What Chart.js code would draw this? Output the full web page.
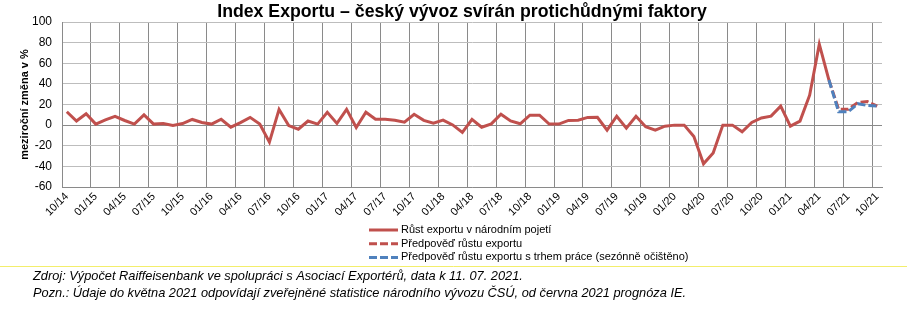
<!DOCTYPE html>
<html>
<head>
<meta charset="utf-8">
<script src="https://cdn.jsdelivr.net/npm/chart.js@4"></script>
<style>
  html, body { margin: 0; padding: 0; background: #fff; }
  #wrap { width: 907px; height: 310px; }
</style>
</head>
<body>
<div id="wrap"><canvas id="exportChart" width="907" height="310"></canvas></div>
<script>
// monthly categories 10/14 .. 10/21
const months = [
  '10/14','11/14','12/14',
  '01/15','02/15','03/15','04/15','05/15','06/15','07/15','08/15','09/15','10/15','11/15','12/15',
  '01/16','02/16','03/16','04/16','05/16','06/16','07/16','08/16','09/16','10/16','11/16','12/16',
  '01/17','02/17','03/17','04/17','05/17','06/17','07/17','08/17','09/17','10/17','11/17','12/17',
  '01/18','02/18','03/18','04/18','05/18','06/18','07/18','08/18','09/18','10/18','11/18','12/18',
  '01/19','02/19','03/19','04/19','05/19','06/19','07/19','08/19','09/19','10/19','11/19','12/19',
  '01/20','02/20','03/20','04/20','05/20','06/20','07/20','08/20','09/20','10/20','11/20','12/20',
  '01/21','02/21','03/21','04/21','05/21','06/21','07/21','08/21','09/21','10/21'
];

// Růst exportu v národním pojetí (10/14 .. 05/21)
const exportGrowth = [
  13, 4, 11, 1, 5, 8.5, 4.5, 1, 10, 1,
  1.5, -0.3, 1.5, 5.5, 2.5, 1, 5.7, -2, 2.5, 7.5,
  1, -16.5, 15.2, -0.5, -4, 4, 1, 12.4, 1.7, 15.3,
  -2.3, 12.5, 5.8, 5.6, 4.8, 2.8, 10.5, 4.6, 1.9, 4.8,
  0.2, -7, 5.6, -2, 1.2, 10.5, 4, 1.3, 9.6, 9.6,
  1, 1, 4.6, 4.8, 7.5, 7.6, -4.8, 8.6, -2.9, 8.6,
  -1.6, -4.8, -1, 0, 0, -11, -37.5, -27, 0, 0,
  -6.5, 2.6, 7, 8.7, 18.4, -1, 3.9, 29, 78.5, 43.7
];

// forecasts
const forecastMonths = ['05/21', '06/21', '07/21', '08/21', '09/21', '10/21'];
const forecastExport = [43.7, 15.3, 15.3, 22, 22.8, 18.4];
const forecastLabour = [43.7, 13, 13, 20.8, 19, 18.4];

const yTicks = [-60, -40, -20, 0, 20, 40, 60, 80, 100];

const legendItems = [
  { text: 'Růst exportu v národním pojetí', color: '#c0504d', dash: [] },
  { text: 'Předpověď růstu exportu', color: '#c0504d', dash: [8, 3] },
  { text: 'Předpověď růstu exportu s trhem práce (sezónně očištěno)', color: '#4f81bd', dash: [8, 3] }
];
const footerLines = [
  'Zdroj: Výpočet Raiffeisenbank ve spolupráci s Asociací Exportérů, data k 11. 07. 2021.',
  'Pozn.: Údaje do května 2021 odpovídají zveřejněné statistice národního vývozu ČSÚ, od června 2021 prognóza IE.'
];

const extras = {
  id: 'extras',
  afterDraw(chart) {
    const ctx = chart.ctx;
    ctx.save();
    // title
    ctx.fillStyle = '#000';
    ctx.font = 'bold 17.7px "Liberation Sans", Arial, sans-serif';
    ctx.textAlign = 'center';
    ctx.textBaseline = 'middle';
    ctx.fillText('Index Exportu – český vývoz svírán protichůdnými faktory', 462, 12);

    // legend
    ctx.font = '11px "Liberation Sans", Arial, sans-serif';
    ctx.textAlign = 'left';
    legendItems.forEach((it, i) => {
      const y = 230 + i * 13.7;
      ctx.beginPath();
      ctx.setLineDash(it.dash);
      ctx.strokeStyle = it.color;
      ctx.lineWidth = 3;
      ctx.moveTo(369, y);
      ctx.lineTo(398, y);
      ctx.stroke();
      ctx.setLineDash([]);
      ctx.fillStyle = '#000';
      ctx.fillText(it.text, 401, y);
    });

    // yellow separator
    ctx.beginPath();
    ctx.strokeStyle = '#f3ee6c';
    ctx.lineWidth = 1;
    ctx.moveTo(0, 266.5);
    ctx.lineTo(907, 266.5);
    ctx.stroke();

    // footer notes
    ctx.fillStyle = '#000';
    ctx.font = 'italic 12.8px "Liberation Sans", Arial, sans-serif';
    footerLines.forEach((t, i) => ctx.fillText(t, 33, 276 + i * 17.5));
    ctx.restore();
  }
};

const ctx = document.getElementById('exportChart').getContext('2d');
new Chart(ctx, {
  type: 'line',
  data: {
    labels: months,
    datasets: [
      {
        label: 'Růst exportu v národním pojetí',
        data: exportGrowth,
        borderColor: '#c0504d',
        borderWidth: 3,
        pointRadius: 0,
        order: 2
      },
      {
        label: 'Předpověď růstu exportu',
        data: forecastMonths.map((m, i) => ({ x: m, y: forecastExport[i] })),
        borderColor: '#c0504d',
        borderDash: [8, 3],
        borderWidth: 3,
        pointRadius: 0,
        order: 1
      },
      {
        label: 'Předpověď růstu exportu s trhem práce (sezónně očištěno)',
        data: forecastMonths.map((m, i) => ({ x: m, y: forecastLabour[i] })),
        borderColor: '#4f81bd',
        borderDash: [8, 3],
        borderWidth: 3,
        pointRadius: 0,
        order: 0
      }
    ]
  },
  options: {
    responsive: false,
    animation: false,
    layout: { padding: { top: 22, right: 25, left: 0, bottom: 0 } },
    plugins: {
      legend: { display: false },
      tooltip: { enabled: false }
    },
    scales: {
      x: {
        type: 'category',
        offset: true,
        afterFit(scale) { scale.height = 123; },
        grid: {
          offset: true,
          drawTicks: false,
          lineWidth: 1,
          color: (c) => (c.index % 3 === 0 && c.index < months.length) ? '#8a8a8a' : 'rgba(0,0,0,0)'
        },
        border: { display: true, color: '#8a8a8a' },
        ticks: {
          autoSkip: false,
          maxRotation: 45,
          minRotation: 45,
          padding: 3,
          color: '#000',
          font: { family: '"Liberation Sans", Arial, sans-serif', size: 11 },
          callback: function (v, i) { return i % 3 === 0 ? this.getLabelForValue(v) : ''; }
        }
      },
      y: {
        min: -60,
        max: 100,
        afterFit(scale) { scale.width = 62; },
        afterBuildTicks(scale) { scale.ticks = yTicks.map(v => ({ value: v })); },
        grid: {
          drawTicks: false,
          color: (c) => c.tick && c.tick.value === 0 ? '#8a8a8a' : '#bdbdbd'
        },
        border: { display: true, color: '#8a8a8a' },
        ticks: {
          padding: 10,
          color: '#000',
          font: { family: '"Liberation Sans", Arial, sans-serif', size: 12 }
        },
        title: {
          display: true,
          text: 'meziroční změna v %',
          color: '#000',
          padding: { top: 18, bottom: 0 },
          font: { family: '"Liberation Sans", Arial, sans-serif', size: 11, weight: 'bold' }
        }
      }
    }
  },
  plugins: [extras]
});
</script>
</body>
</html>
